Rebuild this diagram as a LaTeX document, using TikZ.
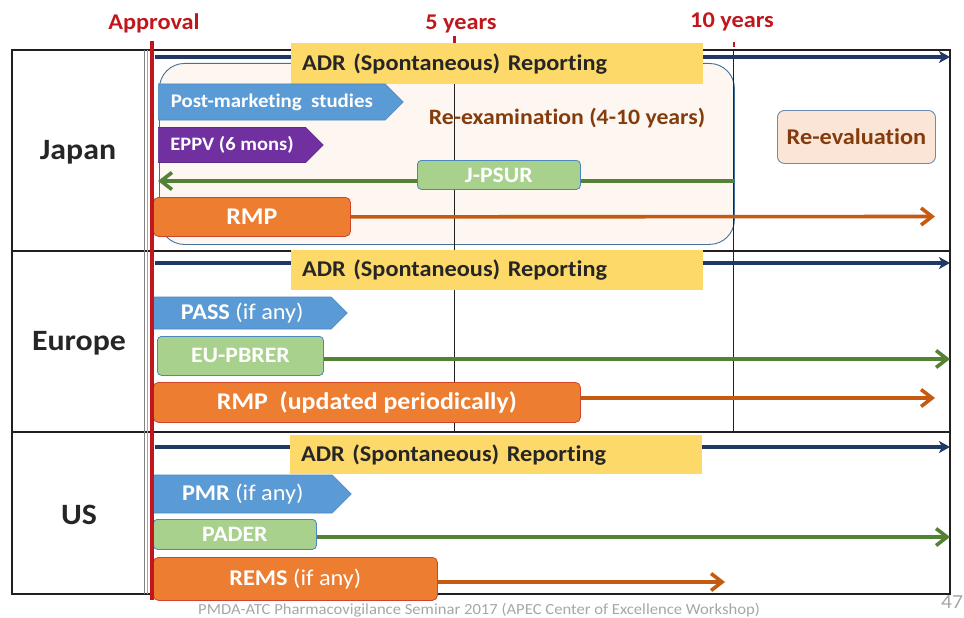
\documentclass[tikz,border=0pt]{standalone}
\usepackage{fontspec}
\setmainfont[FakeStretch=1.08, Ligatures={NoCommon,NoContextual}, RawFeature={-liga;-clig;-calt;-dlig}]{Carlito}
\usetikzlibrary{arrows.meta, shapes.symbols, positioning}
\definecolor{apred}{HTML}{C1161C}
\definecolor{adrnavy}{HTML}{1F3864}
\definecolor{adryellow}{HTML}{FDD969}
\definecolor{pmsblue}{HTML}{5B9BD5}
\definecolor{pmsedge}{HTML}{4A86C0}
\definecolor{eppvpurple}{HTML}{7030A0}
\definecolor{psurgreen}{HTML}{A9D18E}
\definecolor{psurline}{HTML}{548235}
\definecolor{rmporange}{HTML}{ED7D31}
\definecolor{rmpline}{HTML}{C55A11}
\definecolor{rmpedge}{HTML}{D0452A}
\definecolor{exambrown}{HTML}{843C0C}
\definecolor{examfill}{HTML}{FEF6F1}
\definecolor{examedge}{HTML}{41719C}
\definecolor{evalfill}{HTML}{FBE5D6}
\definecolor{gridline}{HTML}{231F20}
\definecolor{footgray}{HTML}{A6A6A6}
\newcommand{\setfs}[1]{\fontsize{#1}{#1}\selectfont}

\begin{document}
\begin{tikzpicture}[x=1pt, y=-1pt,
        every node/.style={inner sep=0pt},
        grid/.style={gridline, line width=1.1pt},
        hdr/.style={text=apred, font=\setfs{22.5}\bfseries},
        country/.style={text=black!85, font=\setfs{29.5}\bfseries},
        adrbox/.style={fill=adryellow, anchor=north west, minimum height=#1,
            text width=390pt, inner xsep=11pt, align=left,
            text=black!85, font=\setfs{22.5}\bfseries},
        adrarrow/.style={adrnavy, line width=3.2pt,
            -{Stealth[length=11pt,width=12pt,inset=3pt]}},
        studytag/.style={signal, signal to=east, signal pointer angle=90,
            fill=pmsblue, draw=pmsedge, line width=0.6pt, anchor=west,
            text=white, font=\setfs{22.5}\bfseries},
        reportbox/.style={rounded corners=4pt, fill=psurgreen, draw=pmsedge,
            line width=0.8pt, anchor=north west, text=white,
            font=\setfs{22}\bfseries},
        rmpbox/.style={rounded corners=5pt, fill=rmporange, draw=rmpedge,
            line width=0.8pt, anchor=north west, text=white,
            font=\setfs{24}\bfseries},
        greenarrow/.style={psurline, line width=3.6pt,
            -{Straight Barb[length=11pt,width=17pt]}},
        orangearrow/.style={rmpline, line width=3.6pt,
            -{Straight Barb[length=11pt,width=17pt]}}]
    \useasboundingbox (0,0) rectangle (964,618);

    % table
    \draw[grid] (12,50) rectangle (950,594);
    \draw[grid] (12,251) -- (950,251);
    \draw[grid] (12,432) -- (950,432);
    \draw[gray, line width=0.9pt] (144.5,50) -- (144.5,594);
    \draw[gray!70, line width=0.9pt] (147.5,50) -- (147.5,594);

    % re-examination period (Japan)
    \node[rounded corners=25pt, fill=examfill, draw=examedge, line width=0.9pt,
        anchor=north west, minimum width=575pt, minimum height=181pt] (jexam) at (159,63) {};
    \draw[gridline, line width=1pt] (454.5,50) -- (454.5,432);
    \draw[gridline, line width=1pt] (733.5,50) -- (733.5,432);

    % time axis
    \node[hdr] (approval) at (154,23) {Approval};
    \node[hdr] (fivey) at (461,24) {5 years};
    \node[hdr] (teny) at (732,22) {10 years};
    \draw[apred, line width=3pt] (454.5,36) -- (454.5,44);
    \draw[apred, line width=2pt] (734,42) -- (734,47);

    \node[country] (japan) at (78,152) {Japan};
    \node[country] (europe) at (79,343) {Europe};
    \node[country] (us) at (79,515) {US};

    % Japan
    \coordinate (jadrS) at (155,57);
    \coordinate (jadrE) at (950,57);
    \draw[adrarrow] (jadrS) -- (jadrE);
    \node[adrbox=41pt] (jadr) at (291,43) {ADR (Spontaneous) Reporting};
    \node[text=exambrown, font=\setfs{22}\bfseries] (jexamtxt) at (567,118) {Re-examination (4-10 years)};
    \node[studytag, minimum width=245pt, minimum height=36pt, font=\setfs{19.3}\bfseries] (jpms) at (158,102) {Post-marketing\ \ studies};
    \node[studytag, fill=eppvpurple, draw=eppvpurple!85!black, minimum width=165pt,
        minimum height=35pt, font=\setfs{19}\bfseries] (jeppv) at (158,145) {EPPV (6 mons)};
    \coordinate (jpsurL) at (158,181);
    \coordinate (jpsurR) at (734,181);
    \draw[greenarrow, {Straight Barb[length=11pt,width=17pt]}-] (jpsurL) -- (jpsurR);
    \node[reportbox, minimum width=163pt, minimum height=29pt] (jpsur) at (417,160) {J-PSUR};
    \node[rmpbox, minimum width=197pt, minimum height=39pt] (jrmp) at (153,197) {RMP};
    \coordinate (jrmpE) at (935,216.5);
    \draw[orangearrow] (jrmp.east) -- (jrmpE);
    \node[rounded corners=7pt, fill=evalfill, draw=examedge!80, line width=0.9pt,
        anchor=north west, minimum width=158pt, minimum height=53pt,
        text=exambrown, font=\setfs{22.5}\bfseries] (jeval) at (777,110) {Re-evaluation};

    % Europe
    \coordinate (eadrS) at (155,263);
    \coordinate (eadrE) at (950,263);
    \draw[adrarrow] (eadrS) -- (eadrE);
    \node[adrbox=40pt] (eadr) at (291,250) {ADR (Spontaneous) Reporting};
    \node[studytag, minimum width=194pt, minimum height=32pt] (epass) at (153,313) {PASS \mdseries(if any)};
    \node[reportbox, minimum width=166pt, minimum height=39pt] (epbrer) at (157,336) {EU-PBRER};
    \coordinate (epbrerE) at (950,359);
    \draw[greenarrow] (epbrer.east |- epbrerE) -- (epbrerE);
    \node[rmpbox, minimum width=427pt, minimum height=40pt] (ermp) at (153,382) {RMP\ \ (updated periodically)};
    \coordinate (ermpE) at (935,398);
    \draw[orangearrow] (ermp.east |- ermpE) -- (ermpE);

    % US
    \coordinate (uadrS) at (155,447);
    \coordinate (uadrE) at (950,447);
    \draw[adrarrow] (uadrS) -- (uadrE);
    \node[adrbox=39pt] (uadr) at (290,435) {ADR (Spontaneous) Reporting};
    \node[studytag, minimum width=198pt, minimum height=38pt] (upmr) at (153,494) {PMR \mdseries(if any)};
    \node[reportbox, minimum width=163pt, minimum height=30pt] (upader) at (153,519) {PADER};
    \coordinate (upaderE) at (950,537);
    \draw[greenarrow] (upader.east |- upaderE) -- (upaderE);
    \node[rmpbox, minimum width=284pt, minimum height=43pt, font=\setfs{22.5}\bfseries] (urems) at (153,557) {REMS \mdseries(if any)};
    \coordinate (uremsE) at (725,582);
    \draw[orangearrow] (urems.east |- uremsE) -- (uremsE);

    % approval line
    \draw[apred, line width=4pt] (152,41) -- (152,600);

    \node[text=footgray, font=\setfs{15.4}] (footer) at (479,610) {PMDA-ATC Pharmacovigilance Seminar 2017 (APEC Center of Excellence Workshop)};
    \node[text=footgray, font=\setfs{20}, anchor=west] (pageno) at (941,602) {47};
\end{tikzpicture}
\end{document}
